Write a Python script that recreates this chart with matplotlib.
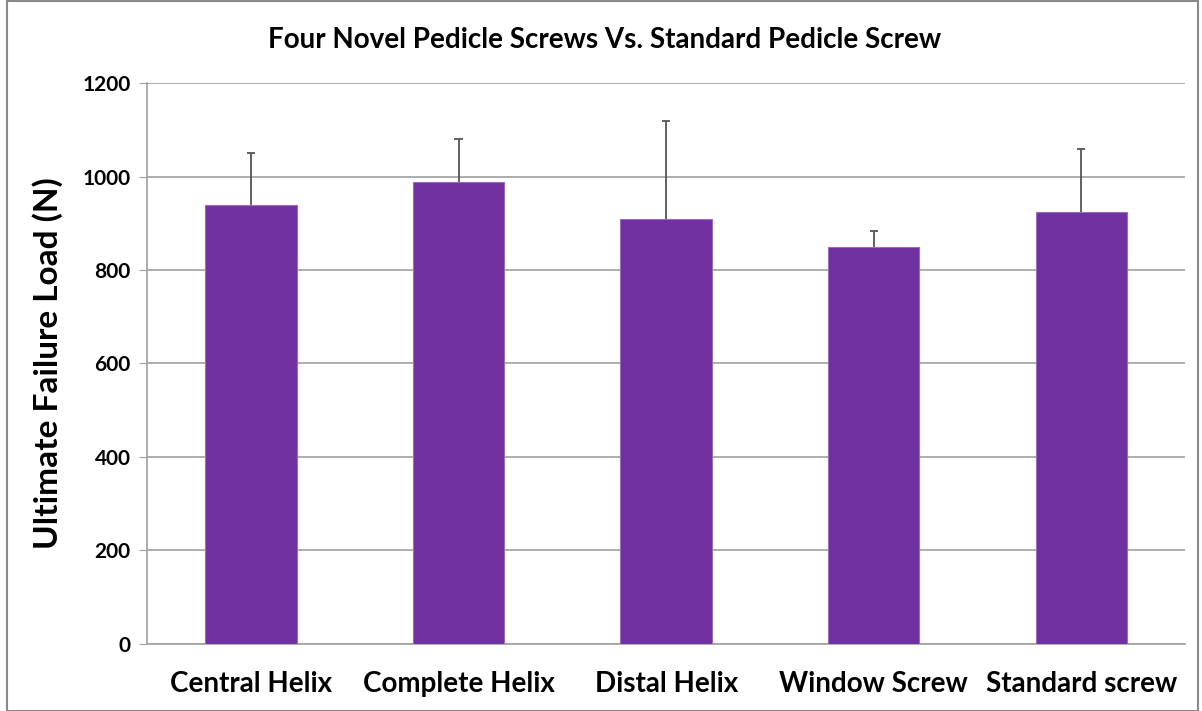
import matplotlib
matplotlib.use("Agg")
import matplotlib.pyplot as plt
from matplotlib.patches import Rectangle

categories = ["Central Helix", "Complete Helix", "Distal Helix", "Window Screw", "Standard screw"]
values = [940, 988, 909, 849, 924]
err_upper = [111, 93, 210, 35, 135]
yticks = [0, 200, 400, 600, 800, 1000, 1200]

plt.rcParams['font.family'] = ['Lato', 'DejaVu Sans']

fig = plt.figure(figsize=(12.02, 7.11), dpi=100)
ax = fig.add_axes([0.1225, 0.0947, 0.8634, 0.7881])

x = list(range(len(categories)))
ax.bar(x, values, width=0.44, color="#7030A0", edgecolor="#9a6cc0", linewidth=0.8, zorder=3)
tops = [v + e for v, e in zip(values, err_upper)]
ax.vlines(x, values, tops, color="#555555", linewidth=1.3, zorder=4)
ax.hlines(tops, [xi - 0.02 for xi in x], [xi + 0.02 for xi in x],
          color="#555555", linewidth=1.3, zorder=4)

ax.set_xlim(-0.5, len(categories) - 0.5)
ax.set_ylim(0, 1200)
ax.set_yticks(yticks)
ax.set_yticklabels([str(t) for t in yticks], fontsize=15, fontweight="bold")
ax.set_xticks(x)
ax.set_xticklabels(categories, fontsize=20, fontweight="bold")
ax.tick_params(axis="x", length=0, pad=20)
ax.tick_params(axis="y", length=6, color="#a0a0a0", pad=6)
ax.yaxis.grid(True, color="#a0a0a0", linewidth=1.2, zorder=0)
ax.set_axisbelow(True)
for s in ["top", "right"]:
    ax.spines[s].set_visible(False)
for s in ["left", "bottom"]:
    ax.spines[s].set_color("#a0a0a0")
    ax.spines[s].set_linewidth(1.2)

ax.set_ylabel("Ultimate Failure Load (N)", fontsize=24, fontweight="bold", labelpad=14)
fig.text(0.503, 0.944, "Four Novel Pedicle Screws Vs. Standard Pedicle Screw",
         ha="center", va="center", fontsize=20, fontweight="bold")

fig.patches.append(Rectangle((0.006, 0.0), 0.991, 0.998, transform=fig.transFigure,
                             fill=False, edgecolor="#8a8a8a", linewidth=1.5))

fig.savefig("out.png", dpi=100)
